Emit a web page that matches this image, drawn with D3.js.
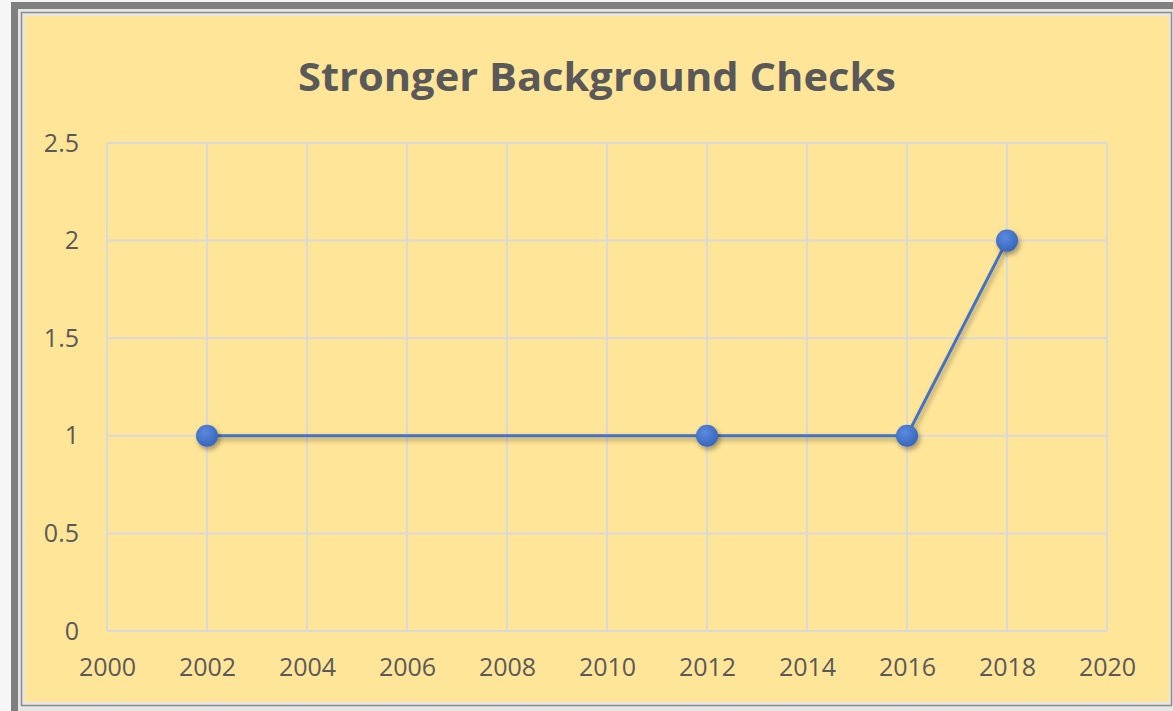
<!DOCTYPE html>
<html>
<head>
<meta charset="utf-8">
<script src="https://cdn.jsdelivr.net/npm/d3@7"></script>
<style>
  body { margin: 0; background: #f6f6f6; }
  svg { display: block; }
  .tick text { font-family: "Open Sans", "Liberation Sans", sans-serif; fill: #595959; }
</style>
</head>
<body>
<div id="chart"></div>
<script>
// chart data
const years = [2002, 2012, 2016, 2018];
const values = [1, 1, 1, 2];
const xTicks = [2000, 2002, 2004, 2006, 2008, 2010, 2012, 2014, 2016, 2018, 2020];
const yTicks = [0, 0.5, 1, 1.5, 2, 2.5];
const title = 'Stronger Background Checks';

const width = 1173, height = 711;
const margin = {left: 107, right: 66, top: 143, bottom: 80};

const svg = d3.select('#chart').append('svg')
    .attr('width', width)
    .attr('height', height);

// frame
svg.append('rect').attr('x', 11).attr('y', 2).attr('width', width - 11).attr('height', height - 2)
    .attr('fill', '#7f7f7f');
svg.append('rect').attr('x', 18).attr('y', 9).attr('width', width - 18).attr('height', height - 9)
    .attr('fill', '#e6e6e6');
svg.append('rect').attr('x', 21.5).attr('y', 12.5).attr('width', 1150).attr('height', 693)
    .attr('fill', 'none').attr('stroke', '#8c8c8c').attr('stroke-width', 1.5);
svg.append('rect').attr('x', 25).attr('y', 16).attr('width', 1144).attr('height', 686)
    .attr('fill', '#ffe597');

var defs = svg.append('defs');
var shadow = defs.append('filter').attr('id', 'shadow')
    .attr('x', '-50%').attr('y', '-50%').attr('width', '200%').attr('height', '200%');
shadow.append('feDropShadow').attr('dx', 2).attr('dy', 3).attr('stdDeviation', 2.5)
    .attr('flood-color', '#000').attr('flood-opacity', 0.35);
var grad = defs.append('radialGradient').attr('id', 'dot').attr('cx', '40%').attr('cy', '35%').attr('r', '70%');
grad.append('stop').attr('offset', '0%').attr('stop-color', '#5b8ae0');
grad.append('stop').attr('offset', '100%').attr('stop-color', '#3563b8');

const xScale = d3.scaleLinear().domain([2000, 2020]).range([margin.left, width - margin.right]);
const yScale = d3.scaleLinear().domain([0, 2.5]).range([height - margin.bottom, margin.top]);

// gridlines
const g = svg.append('g');
g.selectAll('line.vgrid').data(xTicks).enter().append('line')
    .attr('class', 'vgrid')
    .attr('x1', d => xScale(d)).attr('x2', d => xScale(d))
    .attr('y1', yScale(0)).attr('y2', yScale(2.5))
    .attr('stroke', '#d9d9d9').attr('stroke-width', 2);
g.selectAll('line.hgrid').data(yTicks).enter().append('line')
    .attr('class', 'hgrid')
    .attr('x1', xScale(2000)).attr('x2', xScale(2020))
    .attr('y1', d => yScale(d)).attr('y2', d => yScale(d))
    .attr('stroke', '#d9d9d9').attr('stroke-width', 2);

// axes (labels only)
var xAxis = d3.axisBottom(xScale).tickValues(xTicks).tickFormat(d3.format('d')).tickSize(0).tickPadding(27);
var yAxis = d3.axisLeft(yScale).tickValues(yTicks).tickFormat(d => d).tickSize(0).tickPadding(28);

svg.append('g')
    .attr('transform', 'translate(0,' + yScale(0) + ')')
    .call(xAxis)
    .call(s => s.select('.domain').remove())
    .selectAll('text').style('font-size', '25px');
svg.append('g')
    .attr('transform', 'translate(' + xScale(2000) + ',0)')
    .call(yAxis)
    .call(s => s.select('.domain').remove())
    .selectAll('text').style('font-size', '25px');

// title
svg.append('text')
    .attr('x', 597)
    .attr('y', 91)
    .attr('text-anchor', 'middle')
    .attr('font-family', '"Open Sans", "Liberation Sans", sans-serif')
    .attr('font-weight', 'bold')
    .attr('font-size', 40)
    .attr('textLength', 598)
    .attr('lengthAdjust', 'spacingAndGlyphs')
    .attr('fill', '#595959')
    .text(title);

// series
var points = years.map((y, i) => ({x: y, y: values[i]}));
var line = d3.line().x(d => xScale(d.x)).y(d => yScale(d.y));
svg.append('path')
    .datum(points)
    .attr('d', line)
    .attr('fill', 'none')
    .attr('stroke', '#4472c4')
    .attr('stroke-width', 3)
    .attr('filter', 'url(#shadow)');
svg.selectAll('circle.pt').data(points).enter().append('circle')
    .attr('class', 'pt')
    .attr('cx', d => xScale(d.x))
    .attr('cy', d => yScale(d.y))
    .attr('r', 11)
    .attr('fill', 'url(#dot)')
    .attr('filter', 'url(#shadow)');
</script>
</body>
</html>
